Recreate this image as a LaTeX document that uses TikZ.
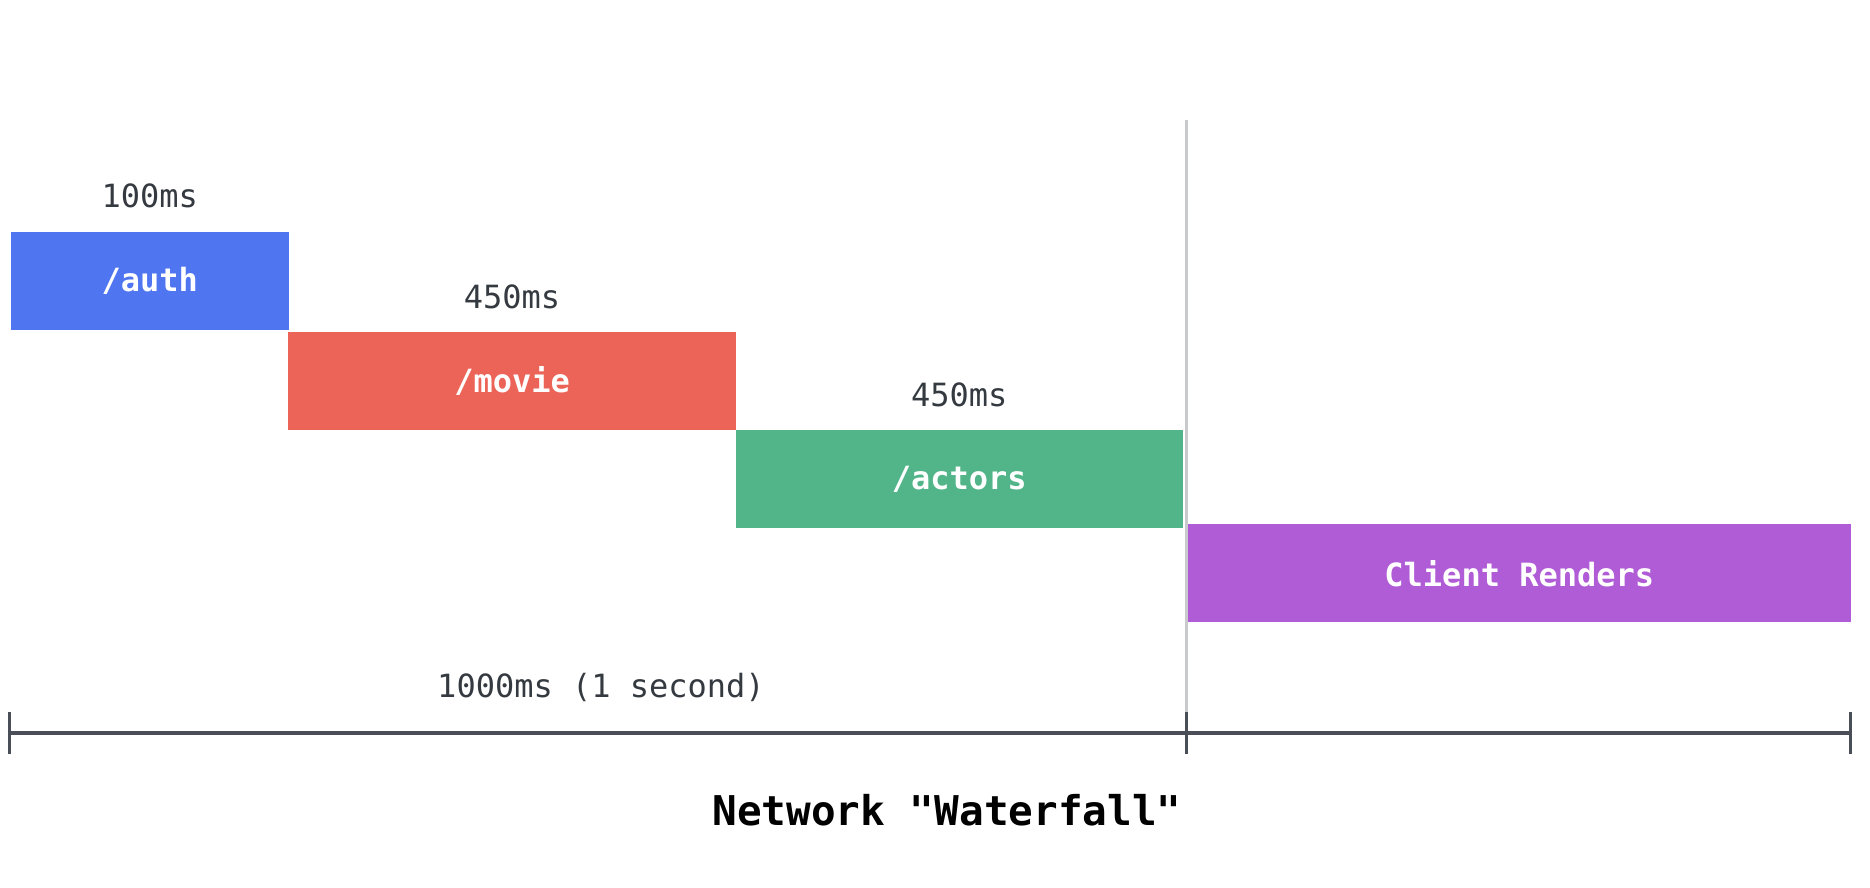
\documentclass[tikz,border=0pt]{standalone}
\usepackage{fontspec}
\setmonofont{DejaVu Sans Mono}
\usetikzlibrary{positioning}
\definecolor{authblue}{HTML}{4F75F0}
\definecolor{moviered}{HTML}{EC6458}
\definecolor{actorgreen}{HTML}{52B589}
\definecolor{renderpurple}{HTML}{B05CD6}
\definecolor{inkgray}{HTML}{343A40}
\definecolor{axisgray}{HTML}{4A4F57}
\definecolor{splitgray}{HTML}{C8CACD}
\begin{document}
\begin{tikzpicture}[x=0.5pt, y=-0.5pt,
            every node/.style = {inner sep=0pt, text=inkgray,
              font=\ttfamily\fontsize{16}{19}\selectfont},
            bar/.style = {shape=rectangle, minimum height=49pt,
              text=white, font=\ttfamily\bfseries\fontsize{16}{19}\selectfont},
            timing/.style = {above=17.5pt of #1, anchor=center}]
  \useasboundingbox (0,0) rectangle (1870,888);
  \node[bar, fill=authblue, minimum width=139pt] (auth) at (149.8,280.7) {/auth};
  \node[bar, fill=moviered, minimum width=223.7pt] (movie) at (512.1,381.3) {/movie};
  \node[bar, fill=actorgreen, minimum width=223.7pt] (actors) at (959.3,479.2) {/actors};
  \node[bar, fill=renderpurple, minimum width=331.3pt] (render) at (1519.3,573.3) {Client Renders};
  \node[timing=auth.north] (authtime) {100ms};
  \node[timing=movie.north] (movietime) {450ms};
  \node[timing=actors.north] (actorstime) {450ms};
  \coordinate (t0) at (9.5,733);
  \coordinate (t1) at (1186,733);
  \coordinate (t2) at (1850,733);
  \coordinate (split) at (1186,120);
  \draw[splitgray, line width=1.5pt] (split) -- (t1);
  \draw[axisgray, line width=2pt] (t0) -- (t2);
  \foreach \t in {t0,t1,t2}
    \draw[axisgray, line width=1.5pt] ([yshift=10.5pt]\t) -- ([yshift=-10.5pt]\t);
  \node (budget) at (601,687) {1000ms (1 second)};
  \node[font=\ttfamily\bfseries\fontsize{20.5}{24}\selectfont, text=black] (title) at (947,810) {Network "Waterfall"};
\end{tikzpicture}
\end{document}
